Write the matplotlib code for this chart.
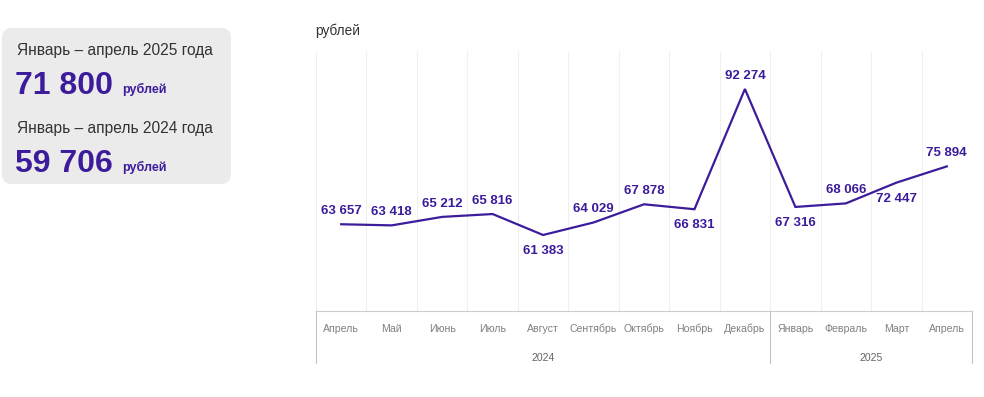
import matplotlib.pyplot as plt
from matplotlib.patches import FancyBboxPatch

plt.rcParams['font.family'] = ['Liberation Sans', 'DejaVu Sans']

months = ['Апрель', 'Май', 'Июнь', 'Июль', 'Август', 'Сентябрь', 'Октябрь',
          'Ноябрь', 'Декабрь', 'Январь', 'Февраль', 'Март', 'Апрель']
salary = [63657, 63418, 65212, 65816, 61383, 64029, 67878,
          66831, 92274, 67316, 68066, 72447, 75894]
label_above = [True, True, True, True, False, True, True,
               False, True, False, True, False, True]
years = ['2024', '2025']
year_spans = [(-0.5, 8.5), (8.5, 12.5)]
summary_titles = ['Январь – апрель 2025 года', 'Январь – апрель 2024 года']
summary_values = ['71 800', '59 706']

purple = '#3d1c9c'
W, H = 984, 397

fig = plt.figure(figsize=(W / 100, H / 100), dpi=100)

# background overlay in pixel coordinates for the summary box
bg = fig.add_axes([0, 0, 1, 1])
bg.set_xlim(0, W)
bg.set_ylim(H, 0)
bg.axis('off')
bg.add_patch(FancyBboxPatch((2, 28), 229, 156, boxstyle='round,pad=0,rounding_size=10',
                            facecolor='#ebebeb', edgecolor='none'))
for i, (title, val) in enumerate(zip(summary_titles, summary_values)):
    y0 = 50 + i * 78
    bg.text(17, y0, title, fontsize=11.2, color='#333333', va='center', ha='left')
    bg.text(15, y0 + 44, val, fontsize=23, fontweight='bold', color=purple,
            va='baseline', ha='left')
    bg.text(122, y0 + 43, 'рублей', fontsize=9, fontweight='bold', color=purple,
            va='baseline', ha='left')
bg.text(315, 31, 'рублей', fontsize=9.8, color='#333333', va='center', ha='left')

# main chart
left, right, top, bottom = 316, 972, 52, 311
ax = fig.add_axes([left / W, 1 - bottom / H, (right - left) / W, (bottom - top) / H])
x = list(range(len(months)))
ax.plot(x, salary, color=purple, lw=1.6, solid_joinstyle='miter', zorder=3)
ax.set_xlim(-0.5, len(months) - 0.5)
ax.set_ylim(45300, 100100)

for xi, v, up in zip(x, salary, label_above):
    txt = f'{v:,}'.replace(',', ' ')
    ax.annotate(txt, (xi, v), xytext=(0, 13 if up else -16), textcoords='offset pixels',
                ha='center', va='center', fontsize=9.5, fontweight='bold', color=purple,
                zorder=4)

for b in range(len(months) + 1):
    ax.axvline(b - 0.5, color='#efefef', lw=0.8, zorder=1)

for s in ['top', 'right', 'left']:
    ax.spines[s].set_visible(False)
ax.spines['bottom'].set_color('#cccccc')
ax.set_yticks([])
ax.set_xticks(x)
ax.set_xticklabels(months, fontsize=7.6, color='#808080')
ax.tick_params(axis='x', length=0, pad=9)

# year grouping below the axis
trans = ax.get_xaxis_transform()
group_bottom = -(363 - bottom) / (bottom - top)
year_y = -(358 - bottom) / (bottom - top)
for xs in [-0.5, 8.5, 12.5]:
    ax.plot([xs, xs], [0, group_bottom], transform=trans, color='#c4c4c4', lw=0.8,
            clip_on=False)
for yr, (a, b) in zip(years, year_spans):
    ax.text((a + b) / 2, year_y, yr, transform=trans, ha='center', va='center',
            fontsize=7.6, color='#666666')

fig.savefig('out.png', dpi=100)
